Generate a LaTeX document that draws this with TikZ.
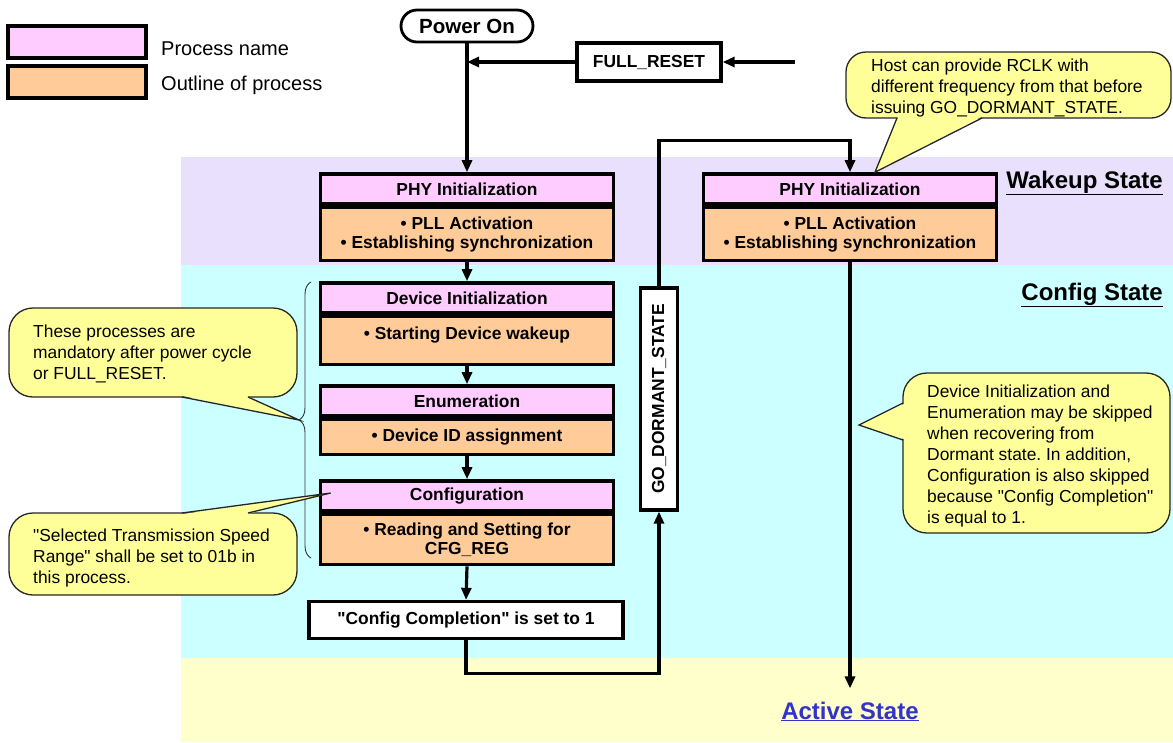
\documentclass[tikz,border=0pt]{standalone}
\usepackage{fontspec}
\setmainfont{Liberation Sans}
\usepackage{graphicx}
\usetikzlibrary{arrows.meta,positioning,decorations.pathreplacing}
\definecolor{namepink}{HTML}{FFCCFF}
\definecolor{outlineorange}{HTML}{FFCC99}
\definecolor{wakeupbg}{HTML}{E8E0FC}
\definecolor{configbg}{HTML}{CCFFFF}
\definecolor{activebg}{HTML}{FFFFCC}
\definecolor{noteyellow}{HTML}{FFFF99}
\definecolor{linkblue}{HTML}{3333CC}
\frenchspacing

\tikzset{
  procname/.style={draw, line width=3.6pt, fill=namepink, minimum width=293pt, minimum height=30pt, inner sep=0pt, font=\fontsize{17.4}{19}\selectfont\bfseries},
  procbody/.style={draw, line width=3.6pt, fill=outlineorange, minimum width=293pt, inner sep=0pt, align=center, font=\fontsize{17.4}{19}\selectfont\bfseries},
  plainbox/.style={draw, line width=3.3pt, fill=white, inner sep=0pt, font=\fontsize{17.4}{19}\selectfont\bfseries},
  startbox/.style={draw, line width=2.8pt, fill=white, rounded corners=16pt, minimum width=132pt, minimum height=32pt, font=\fontsize{20.5}{24}\selectfont\bfseries},
  flow/.style={line width=3.2pt, -{Triangle[length=12pt,width=10pt]}},
  keytext/.style={anchor=base west, inner sep=0pt, font=\fontsize{20}{24}\selectfont},
  statelabel/.style={inner sep=0pt, font=\fontsize{24}{28}\selectfont\bfseries},
  note/.style={draw=black!85, line width=1.3pt, fill=noteyellow},
  noteedge/.style={draw=black!85, line width=1.3pt},
  notetext/.style={anchor=north west, inner sep=0pt, align=left, font=\fontsize{17.4}{21}\selectfont},
}

\begin{document}
\begin{tikzpicture}[x=1pt,y=-1pt]
  \useasboundingbox (0,0) rectangle (1173,742);

  % state bands
  \fill[wakeupbg] (181,157) rectangle (1173,265);
  \fill[configbg] (181,265) rectangle (1173,658);
  \fill[activebg] (181,658) rectangle (1173,742);

  % legend
  \node[procname, minimum width=138pt, minimum height=32pt] (keyname) at (77,42) {};
  \node[procbody, minimum width=138pt, minimum height=32pt] (keybody) at (77,82) {};
  \node[keytext] (keynametext) at (161,55) {Process name};
  \node[keytext] (keybodytext) at (161,90) {Outline of process};

  % start
  \node[startbox] (power) at (467,26) {Power On};
  \node[plainbox, minimum width=144pt, minimum height=38pt] (reset) at (649,62) {FULL\_RESET};
  \coordinate (resetin) at (795,62);

  % main column
  \node[procname] (phyL) at (467,189) {PHY Initialization};
  \node[procbody, minimum height=53pt, below=0pt of phyL] (phyLbody) {\textbullet\ PLL Activation\\\textbullet\ Establishing synchronization};
  \node[procname] (devT) at (467,298) {Device Initialization};
  \node[procbody, minimum height=48pt, below=0pt of devT] (devBody) {\textbullet\ Starting Device wakeup\\[-4pt]};
  \node[procname] (enumT) at (467,401) {Enumeration};
  \node[procbody, minimum height=35pt, below=0pt of enumT] (enumBody) {\textbullet\ Device ID assignment};
  \node[procname] (cfgT) at (467,496) {Configuration};
  \node[procbody, minimum height=50pt, below=0pt of cfgT] (cfgBody) {\textbullet\ Reading and Setting for\\CFG\_REG};
  \node[plainbox, minimum width=314pt, minimum height=37pt] (done) at (466,620) {\textquotedbl Config Completion\textquotedbl\ is set to 1};

  % dormant branch
  \node[plainbox, minimum width=37pt, minimum height=222pt] (dormant) at (659,399) {\rotatebox{90}{GO\_DORMANT\_STATE}};
  \node[procname] (phyR) at (850,189) {PHY Initialization};
  \node[procbody, minimum height=53pt, below=0pt of phyR] (phyRbody) {\textbullet\ PLL Activation\\\textbullet\ Establishing synchronization};

  % state labels
  \node[statelabel, anchor=base east] (wakeup) at (1163,188) {\underline{Wakeup State}};
  \node[statelabel, anchor=base east] (config) at (1163,300) {\underline{Config State}};
  \node[statelabel, anchor=base, text=linkblue] (active) at (850,719) {\underline{Active State}};

  % flow
  \draw[flow] (power.south) -- (phyL.north);
  \draw[flow] (resetin) -- (reset.east);
  \draw[flow] (reset.west) -- (reset.west -| power.south);
  \draw[flow] (phyLbody.south) -- (devT.north);
  \draw[flow] (devBody.south) -- (enumT.north);
  \draw[flow] (enumBody.south) -- (cfgT.north);
  \draw[flow] (cfgBody.south) -- (done.north);
  \draw[flow] (done.south) -- ++(0,33) -| (dormant.south);
  \draw[flow] (dormant.north) -- ++(0,-146) -| (phyR.north);
  \draw[flow] (phyRbody.south) -- ([yshift=13pt]active.north);

  % brace over the mandatory steps
  \draw[black!80, line width=0.9pt, decorate, decoration={brace, amplitude=12pt}] (311,558) -- (311,282);
  \coordinate (bracetip) at (299,420);
  \coordinate (cfgtip) at ([shift={(12,-3)}]cfgT.west);
  \coordinate (rclktip) at ([xshift=25pt]phyR.north);
  \coordinate (skiptip) at (859,425);

  % callouts
  \draw[note, rounded corners=24pt] (9,308) rectangle (297,397);
  \fill[noteyellow] (183,396) -- (bracetip) -- (247,396) -- cycle;
  \draw[noteedge] (182,397) -- (bracetip) -- (248,397);
  \node[notetext] (noteA) at (33,325) {These processes are\\mandatory after power cycle\\or FULL\_RESET.};

  \draw[note, rounded corners=24pt] (9,513) rectangle (297,595);
  \fill[noteyellow] (183,514) -- (cfgtip) -- (247,514) -- cycle;
  \draw[noteedge] (182,513) -- (cfgtip) -- (248,513);
  \node[notetext] (noteB) at (33,529) {\textquotedbl Selected Transmission Speed\\Range\textquotedbl\ shall be set to 01b in\\this process.};

  \draw[note, rounded corners=24pt] (903,373) rectangle (1170,533);
  \fill[noteyellow] (904,404) -- (skiptip) -- (904,439) -- cycle;
  \draw[noteedge] (903,403) -- (skiptip) -- (903,440);
  \node[notetext] (noteC) at (927,385) {Device Initialization and\\Enumeration may be skipped\\when recovering from\\Dormant state. In addition,\\Configuration is also skipped\\because \textquotedbl Config Completion\textquotedbl\\is equal to 1.};

  \draw[note, rounded corners=20pt] (846,52) rectangle (1171,118);
  \fill[noteyellow] (898,117) -- (rclktip) -- (981,117) -- cycle;
  \draw[noteedge] (897,118) -- (rclktip) -- (982,118);
  \node[notetext] (noteD) at (871,59) {Host can provide RCLK with\\different frequency from that before\\issuing GO\_DORMANT\_STATE.};
\end{tikzpicture}
\end{document}
